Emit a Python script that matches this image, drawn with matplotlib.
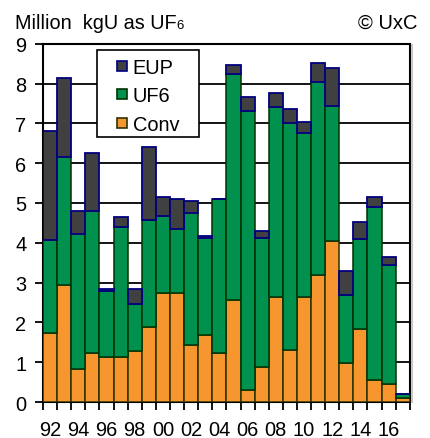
"""Stacked bars: conversion, UF6 and EUP volumes by year."""

import matplotlib

matplotlib.use("Agg")
import matplotlib.pyplot as plt
import numpy as np
from matplotlib.lines import Line2D
from matplotlib.patches import Rectangle

plt.rcParams["font.family"] = ["Liberation Sans", "DejaVu Sans"]

years = list(range(1992, 2018))
conv = [1.74, 2.93, 0.84, 1.23, 1.13, 1.13, 1.28, 1.89, 2.73, 2.73, 1.44,
        1.69, 1.23, 2.57, 0.29, 0.88, 2.64, 1.30, 2.64, 3.19, 4.05, 0.99,
        1.83, 0.55, 0.44, 0.11]
uf6 = [2.34, 3.22, 3.39, 3.57, 1.66, 3.27, 1.18, 2.68, 1.95, 1.61, 3.30,
       2.44, 3.87, 5.67, 7.01, 3.25, 4.76, 5.70, 4.11, 4.86, 3.39, 1.71,
       2.26, 4.36, 3.00, 0.08]
eup = [2.72, 2.00, 0.57, 1.45, 0.05, 0.24, 0.39, 1.83, 0.46, 0.75, 0.30,
       0.05, 0.00, 0.23, 0.36, 0.17, 0.36, 0.35, 0.29, 0.46, 0.96, 0.60,
       0.42, 0.24, 0.21, 0.00]
tick_years = [f"{y % 100:02d}" for y in years[:-1:2]]
series_names = ["EUP", "UF6", "Conv"]

ORANGE = "#f7962f"
GREEN = "#00914f"
GRAY = "#404040"
CONV_EDGE = "#2b3300"
UF6_EDGE = "#003300"
EUP_EDGE = "#000080"

W, H = 430, 439
fig = plt.figure(figsize=(W / 100, H / 100), dpi=100)
ax = fig.add_axes([0.1, 0.082, 0.853, 0.816])

x = np.arange(len(years))
conv_a = np.array(conv)
uf6_a = np.array(uf6)
eup_a = np.array(eup)
ax.bar(x, conv_a, width=1.0, color=ORANGE, edgecolor=CONV_EDGE,
       linewidth=1.1, zorder=3)
ax.bar(x, uf6_a, bottom=conv_a, width=1.0, color=GREEN,
       edgecolor=UF6_EDGE, linewidth=1.1, zorder=3)
ax.bar(x, eup_a, bottom=conv_a + uf6_a, width=1.0, color=GRAY,
       edgecolor=EUP_EDGE, linewidth=1.3, zorder=3)

ax.set_xlim(-0.5, len(years) - 0.5)
ax.set_ylim(0, 9)
ax.set_yticks(range(10))
ax.tick_params(axis="y", direction="out", length=6, width=1.3,
               labelsize=14.4, pad=6)
ax.set_xticks(x[:-1:2])
ax.set_xticklabels(tick_years)
ax.set_xticks(np.arange(len(years) + 1) - 0.5, minor=True)
ax.tick_params(axis="x", which="major", length=0, labelsize=14.4, pad=13)
ax.tick_params(axis="x", which="minor", direction="out", length=6,
               width=1.3)
ax.grid(axis="y", color="black", linewidth=1.3, zorder=0)
ax.set_axisbelow(True)
for sp in ax.spines.values():
    sp.set_linewidth(1.5)

# faint shadow right of the frame
fig.add_artist(Line2D([0.958, 0.958], [0.082, 0.895], color="#c8c8c8",
                      linewidth=1.5, transform=fig.transFigure))


def fx(px):
    return px / W


def fy(py):
    return 1 - py / H


# legend box drawn by hand so its padding matches the original
fig.add_artist(Rectangle((fx(97.3), fy(137.7)), fx(102), 86.7 / H,
                         facecolor="white", edgecolor="black",
                         linewidth=1.2, transform=fig.transFigure,
                         zorder=5))
sw = 10
for name, base, fc, ec in zip(series_names, [74.3, 101.7, 131.0],
                              [GRAY, GREEN, ORANGE],
                              [EUP_EDGE, UF6_EDGE, CONV_EDGE]):
    mid = base - 7.2
    fig.add_artist(Rectangle((fx(122 - sw / 2), fy(mid + sw / 2)),
                             sw / W, sw / H, facecolor=fc, edgecolor=ec,
                             linewidth=1.2, transform=fig.transFigure,
                             zorder=6))
    fig.text(fx(132.7), fy(base), name, fontsize=14.4, ha="left",
             va="baseline", zorder=6)

hdr = fig.text(0.035, fy(29), "Million  kgU as UF", fontsize=14.3,
               ha="left", va="baseline")
fig.canvas.draw()
bb = hdr.get_window_extent()
fig.text(bb.x1 / fig.bbox.width, fy(29), "6", fontsize=9.5,
         ha="left", va="baseline")
fig.text(0.97, fy(29), "\u00a9 UxC", fontsize=14.5, ha="right",
         va="baseline")

fig.savefig("out.png", dpi=100)
